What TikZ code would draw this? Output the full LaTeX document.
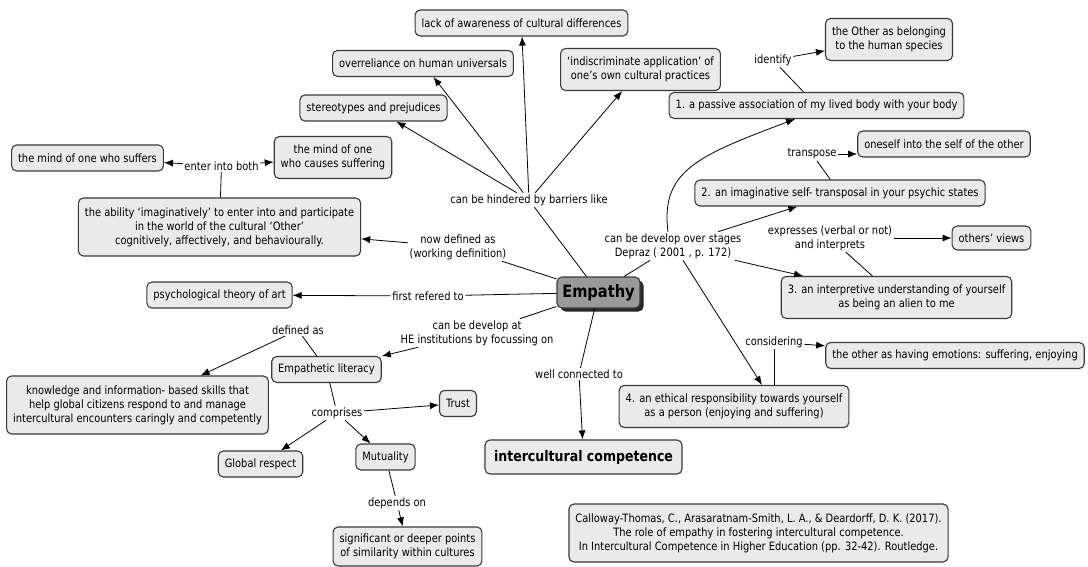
\documentclass[tikz,border=0pt]{standalone}
\usepackage{fontspec}
\setmainfont{DejaVu Sans}[FakeStretch=0.86]
\usetikzlibrary{arrows.meta,shadows}
\definecolor{boxfill}{HTML}{EAEAEA}
\definecolor{boxline}{HTML}{3A3A3A}
\definecolor{hubfill}{HTML}{999999}
\newcommand\mapfont{\fontsize{11.5}{14}\selectfont}
\begin{document}
\begin{tikzpicture}[x=1pt,y=-1pt,
  concept/.style={draw=boxline, fill=boxfill, rounded corners=5pt, line width=1.1pt,
    align=center, font=\mapfont, inner xsep=6.5pt, inner ysep=3pt, minimum height=26pt},
  two/.style={minimum height=42pt},
  three/.style={minimum height=58pt},
  phrase/.style={align=center, font=\mapfont, inner sep=1.5pt},
  link/.style={line width=0.8pt, black},
  arr/.style={link, -{Latex[length=9pt,width=7pt]}},
]
\fill[white] (0,0) rectangle (1088,567);
\useasboundingbox (0,0) rectangle (1088,567);

% central concept
\node[concept, fill=hubfill, font=\bfseries\fontsize{17}{19}\selectfont,
  minimum width=83pt, minimum height=31pt, inner xsep=4pt,
  drop shadow={shadow xshift=3.5pt, shadow yshift=-3.5pt, fill=black!85, opacity=1}]
  (emp) at (598.5,292.5) {Empathy};

% barriers
\node[concept] (lack) at (521.5,23) {lack of awareness of cultural differences};
\node[concept] (over) at (423,63.5) {overreliance on human universals};
\node[concept, two] (indis) at (640.5,69.5) {‘indiscriminate application’ of\\one’s own cultural practices};
\node[concept] (stereo) at (373.5,108) {stereotypes and prejudices};
\node[phrase] (hind) at (529,200) {can be hindered by barriers like};

% working definition
\node[concept, two] (cause) at (333,157.5) {the mind of one\\who causes suffering};
\node[concept] (suffer) at (87.5,158) {the mind of one who suffers};
\node[phrase] (enter) at (221.5,166) {enter into both};
\node[concept, three] (ability) at (219.5,227) {the ability ‘imaginatively’ to enter into and participate\\in the world of the cultural ‘Other’\\cognitively, affectively, and behaviourally.};
\node[phrase] (nowdef) at (458,247) {now defined as\\(working definition)};

% origin
\node[concept] (psych) at (219.5,295) {psychological theory of art};
\node[phrase] (first) at (428,296) {first refered to};

% higher education
\node[phrase] (devat) at (477,333) {can be develop at\\HE institutions by focussing on};
\node[concept] (emplit) at (326.5,369.5) {Empathetic literacy};
\node[phrase] (defas) at (298,330) {defined as};
\node[concept, three] (know) at (137.5,405) {knowledge and information- based skills that\\help global citizens respond to and manage\\intercultural encounters caringly and competently};
\node[phrase] (comp) at (337,413) {comprises};
\node[concept] (trust) at (458,403.5) {Trust};
\node[concept] (global) at (260.5,464) {Global respect};
\node[concept] (mutual) at (385.5,457) {Mutuality};
\node[phrase] (dep) at (397,503) {depends on};
\node[concept, minimum height=39pt] (simil) at (407.5,546.5) {significant or deeper points\\of similarity within cultures};

% intercultural competence
\node[phrase] (well) at (579,374) {well connected to};
\node[concept, font=\bfseries\fontsize{14.6}{17}\selectfont, minimum height=34pt, inner xsep=9pt]
  (icc) at (583.5,457) {intercultural competence};

% stages after Depraz
\node[phrase] (dev) at (673,246) {can be develop over stages\\Depraz ( 2001 , p. 172)};
\node[concept] (p1) at (816.5,105.5) {1. a passive association of my lived body with your body};
\node[phrase] (ident) at (773,60) {identify};
\node[concept, two] (other) at (889,39.5) {the Other as belonging\\to the human species};
\node[concept] (p2) at (840,193) {2. an imaginative self- transposal in your psychic states};
\node[phrase] (trans) at (812,154) {transpose};
\node[concept] (self) at (944,144) {oneself into the self of the other};
\node[concept, two] (p3) at (896.5,297.5) {3. an interpretive understanding of yourself\\as being an alien to me};
\node[phrase] (expr) at (830,238) {expresses (verbal or not)\\and interprets};
\node[concept, minimum height=24pt] (views) at (991.5,238) {others’ views};
\node[concept, two] (p4) at (734,406.5) {4. an ethical responsibility towards yourself\\as a person (enjoying and suffering)};
\node[phrase] (cons) at (774,342) {considering};
\node[concept] (emo) at (955,355.5) {the other as having emotions: suffering, enjoying};

% reference
\node[concept, three] (cite) at (758.5,533) {Calloway-Thomas, C., Arasaratnam-Smith, L. A., \& Deardorff, D. K. (2017).\\The role of empathy in fostering intercultural competence.\\In Intercultural Competence in Higher Education (pp. 32-42). Routledge.};

% connectors: barriers
\draw[link] (emp) -- (hind);
\draw[arr] (hind) -- (lack);
\draw[arr] (hind) -- (over);
\draw[arr] (hind) -- (stereo);
\draw[arr] (hind) -- (indis);

% connectors: working definition
\draw[link] (emp) -- (nowdef);
\draw[arr] (nowdef) -- (ability);
\draw[link] (ability) -- (enter);
\draw[arr] (enter) -- (suffer);
\draw[arr] (enter) -- (cause);

% connectors: origin
\draw[link] (emp) -- (first);
\draw[arr] (first) -- (psych);

% connectors: higher education
\draw[link] (emp) -- (devat);
\draw[arr] (devat) -- (emplit);
\draw[link] (emplit) -- (defas);
\draw[arr] (defas) -- (know);
\draw[link] (emplit) -- (comp);
\draw[arr] (comp) -- (trust);
\draw[arr] (comp) -- (global);
\draw[arr] (comp) -- (mutual);
\draw[link] (mutual) -- (dep);
\draw[arr] (dep) -- (simil);

% connectors: intercultural competence
\draw[link] (emp) -- (well);
\draw[arr] (well) -- (icc);

% connectors: stages
\draw[link] (emp) -- (dev);
\draw[arr] ([xshift=-5pt]dev.north) .. controls (660,170) and (700,155) .. ([xshift=-21.5pt]p1.south);
\draw[arr] (dev) -- (p2);
\draw[arr] (dev) -- (p3);
\draw[arr] ([xshift=10pt]dev.south) -- ([xshift=28pt]p4.north);
\draw[link] (p1) -- (ident);
\draw[arr] (ident) -- (other);
\draw[link] (p2) -- (trans);
\draw[arr] (trans.east) -- (trans -| self.west);
\draw[link] (p3) -- (expr);
\draw[arr] (expr) -- (views);
\draw[link] (p4.north -| cons) -- (cons);
\draw[arr] (cons) -- (emo);
\end{tikzpicture}
\end{document}
